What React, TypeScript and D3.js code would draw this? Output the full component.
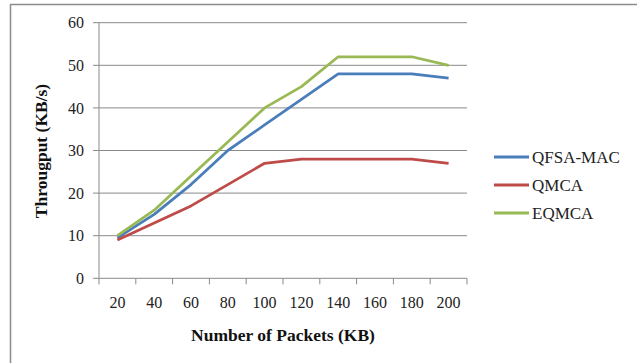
import React from 'react';
import * as d3 from 'd3';

const categories = ['20', '40', '60', '80', '100', '120', '140', '160', '180', '200'];
const qfsaMac = [9.5, 15, 22, 30, 36, 42, 48, 48, 48, 47];
const qmca = [9, 13, 17, 22, 27, 28, 28, 28, 28, 27];
const eqmca = [10, 16, 24, 32, 40, 45, 52, 52, 52, 50];
const yTicks = [0, 10, 20, 30, 40, 50, 60];

const series = [
  { name: 'QFSA-MAC', values: qfsaMac, color: '#4A7EBB' },
  { name: 'QMCA', values: qmca, color: '#BE4B48' },
  { name: 'EQMCA', values: eqmca, color: '#98B954' },
];

const W = 637;
const H = 363;
const font = 'Liberation Serif, Times New Roman, serif';

const App: React.FC = () => {
  const x = d3.scaleBand().domain(categories).range([99, 467]);
  const y = d3.scaleLinear().domain([0, 60]).range([278.3, 22.7]);

  const line = d3.line<number>()
    .x((_, i) => x(categories[i])! + x.bandwidth() / 2)
    .y(d => y(d));

  const edges = [...categories.map(c => x(c)!), 467];
  const txt = { fontFamily: font, fontSize: 16 };
  const title = { fontFamily: font, fontSize: 17.5, fontWeight: 'bold' as const };

  return (
    <svg width={W} height={H} style={{ position: 'absolute', left: 0, top: 0, background: '#fff' }}>
      {/* outer frame */}
      <rect x={10.5} y={4.5} width={640} height={370} fill="none" stroke="#8c8c8c" strokeWidth={1.5} />

      {/* grid + y ticks */}
      {yTicks.map(t => (
        <g key={t}>
          {t > 0 && <line x1={99} x2={467} y1={y(t)} y2={y(t)} stroke="#8a8a8a" strokeWidth={1} />}
          <line x1={93} x2={99} y1={y(t)} y2={y(t)} stroke="#8a8a8a" strokeWidth={1} />
          <text x={84} y={y(t)} dy="0.35em" textAnchor="end" style={txt} fill="#222">{t}</text>
        </g>
      ))}

      {/* axes */}
      <line x1={99} x2={99} y1={y(60)} y2={y(0)} stroke="#8a8a8a" strokeWidth={1} />
      <line x1={99} x2={467} y1={y(0)} y2={y(0)} stroke="#8a8a8a" strokeWidth={1} />
      {edges.map((e, i) => (
        <line key={i} x1={e} x2={e} y1={y(0)} y2={y(0) + 6} stroke="#8a8a8a" strokeWidth={1} />
      ))}
      {categories.map(c => (
        <text key={c} x={x(c)! + x.bandwidth() / 2} y={308} textAnchor="middle" style={txt} fill="#222">{c}</text>
      ))}

      {/* series */}
      {series.map(s => (
        <path key={s.name} d={line(s.values)!} fill="none" stroke={s.color} strokeWidth={2.75} strokeLinejoin="round" />
      ))}

      {/* axis titles */}
      <text transform="translate(47,151) rotate(-90)" textAnchor="middle" style={title} fill="#111">Througput (KB/s)</text>
      <text x={283} y={341} textAnchor="middle" style={title} fill="#111">Number of Packets (KB)</text>

      {/* legend */}
      {series.map((s, i) => (
        <g key={s.name} transform={`translate(0,${157 + i * 28})`}>
          <line x1={494} x2={529} y1={0} y2={0} stroke={s.color} strokeWidth={3} />
          <text x={532} y={0} dy="0.35em" style={{ ...txt, fontSize: 17 }} fill="#222">{s.name}</text>
        </g>
      ))}
    </svg>
  );
};

export default App;
